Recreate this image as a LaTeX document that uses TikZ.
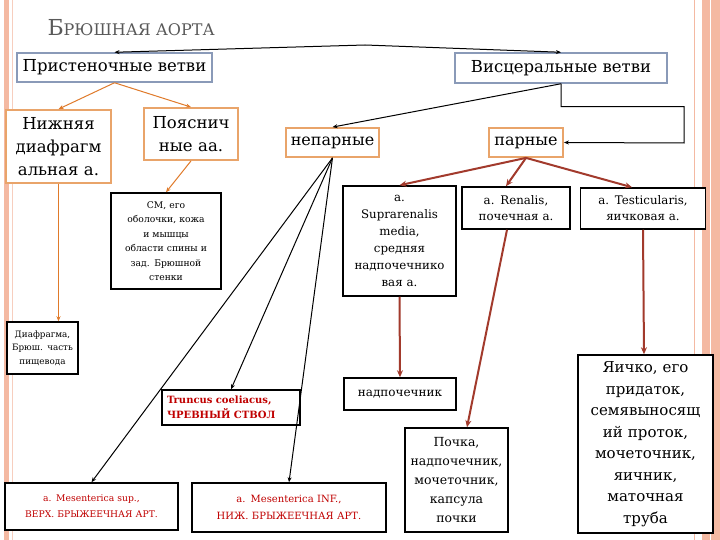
\documentclass[tikz,border=0pt]{standalone}
\usepackage{fontspec}
\setmainfont{DejaVu Serif}
\usetikzlibrary{arrows.meta}
\definecolor{salmon}{HTML}{F4B9A2}
\definecolor{orbox}{HTML}{E9A46A}
\definecolor{orarr}{HTML}{E07A2A}
\definecolor{brarr}{HTML}{A23A2C}
\definecolor{bluebox}{HTML}{8A9AB8}
\definecolor{redtxt}{HTML}{C00000}
\begin{document}
\begin{tikzpicture}[x=1pt,y=-1pt,
 box/.style={draw,inner sep=0pt,align=center,fill=white},
 bbox/.style={box,line width=1.5pt},
 obox/.style={box,draw=orbox,line width=1.8pt},
 vbox/.style={box,draw=bluebox,line width=1.5pt},
 oa/.style={draw=orarr,line width=1pt,-{Stealth[length=5pt,width=4pt]}},
 ba/.style={draw=brarr,line width=2pt,-{Stealth[length=7pt,width=6pt]}},
 ka/.style={draw=black,line width=1pt,-{Stealth[length=5pt,width=4pt]}}]
\useasboundingbox (0,0) rectangle (720,540);
\fill[white] (0,0) rectangle (720,540);
\fill[salmon] (4,0) rectangle (9,540);
\draw[salmon!70,line width=0.6pt] (12,0) -- (12,540);
\fill[salmon] (702,0) rectangle (720,540);
\draw[salmon,line width=0.8pt] (694,0) -- (694,540);
\draw[white,line width=0.6pt] (710,0) -- (710,540);
\node[anchor=base west,text=black!65,font=\fontsize{22}{24}\selectfont] (title) at (44,36) {Б{\fontsize{16}{20}\selectfont РЮШНАЯ АОРТА}};

\node[vbox,minimum width=195pt,minimum height=29pt,font=\fontsize{16.5}{20}\selectfont] (pr) at (114.5,67.5) {Пристеночные ветви};
\node[vbox,minimum width=212pt,minimum height=30pt,font=\fontsize{16.5}{20}\selectfont] (vi) at (561,68) {Висцеральные ветви};
\node[obox,minimum width=105pt,minimum height=73pt,text width=100pt,font=\fontsize{16.5}{23}\selectfont] (nd) at (58.5,146.5) {Нижняя\\диафрагм\\альная а.};
\node[obox,minimum width=94pt,minimum height=52pt,text width=90pt,font=\fontsize{16.5}{23}\selectfont] (po) at (191,134) {Пояснич\\ные аа.};
\node[obox,minimum width=93pt,minimum height=29pt,font=\fontsize{16}{18}\selectfont] (np) at (332.5,142.5) {непарные};
\node[obox,minimum width=74pt,minimum height=29pt,font=\fontsize{16}{18}\selectfont] (pa) at (526,142.5) {парные};
\node[bbox,minimum width=110pt,minimum height=96pt,text width=106pt,font=\fontsize{9.2}{14.5}\selectfont] (cm) at (166,241) {СМ, его\\оболочки, кожа\\и мышцы\\области спины и\\зад. Брюшной\\стенки};
\node[bbox,minimum width=113pt,minimum height=110pt,text width=108pt,font=\fontsize{11.8}{17}\selectfont] (su) at (399.5,241) {а.\\Suprarenalis\\media,\\средняя\\надпочечнико\\вая а.};
\node[bbox,minimum width=108pt,minimum height=42pt,text width=104pt,font=\fontsize{11.8}{16}\selectfont] (re) at (516,208) {a. Renalis,\\почечная а.};
\node[bbox,minimum width=125pt,minimum height=41pt,text width=121pt,font=\fontsize{11.8}{16}\selectfont] (te) at (643,208.5) {a. Testicularis,\\яичковая а.};
\node[bbox,minimum width=71pt,minimum height=52pt,text width=68pt,font=\fontsize{8.8}{13.5}\selectfont] (di) at (42.5,348) {Диафрагма,\\Брюш. часть\\пищевода};
\node[bbox,minimum width=138pt,minimum height=35pt,text width=128pt,align=left,text=redtxt,font=\bfseries\fontsize{10}{15}\selectfont] (tr) at (231,407.5) {Truncus coeliacus,\\ЧРЕВНЫЙ СТВОЛ};
\node[bbox,minimum width=112pt,minimum height=32pt,font=\fontsize{12}{14}\selectfont] (nad) at (400,394) {надпочечник};
\node[bbox,minimum width=103pt,minimum height=104pt,text width=100pt,font=\fontsize{12.5}{19}\selectfont] (pk) at (456.5,480) {Почка,\\надпочечник,\\мочеточник,\\капсула\\почки};
\node[bbox,minimum width=135pt,minimum height=178pt,text width=131pt,font=\fontsize{15}{21.5}\selectfont] (ya) at (645.5,444) {Яичко, его\\придаток,\\семявыносящ\\ий проток,\\мочеточник,\\яичник,\\маточная\\труба};
\node[bbox,minimum width=173pt,minimum height=47pt,text width=170pt,text=redtxt,font=\bfseries\fontsize{9.2}{16}\selectfont] (ms) at (91.5,506.5) {\mdseries a. Mesenterica sup.,\\ВЕРХ. БРЫЖЕЕЧНАЯ АРТ.};
\node[bbox,minimum width=194pt,minimum height=49pt,text width=190pt,text=redtxt,font=\bfseries\fontsize{10}{17}\selectfont] (mi) at (289,507.5) {\mdseries a. Mesenterica INF.,\\НИЖ. БРЫЖЕЕЧНАЯ АРТ.};

\coordinate (top) at (365,45);
\draw[ka] (top) -- (pr.north);
\draw[ka] (top) -- (vi.north);
\draw[ka] (vi.south) -- (np.north);
\draw[ka] (vi.south) -- ++(0,23) -| (684,143) -- (pa.east);

\draw[oa] (pr.south) -- (nd.north);
\draw[oa] (pr.south) -- (po.north);
\draw[oa] (po.south) -- (cm.north);
\draw[oa,line width=0.6pt] (nd.south) -- (di.north-|nd.south);

\draw[ka] (np.south) -- (ms.north);
\draw[ka] (np.south) -- (tr.north);
\draw[ka] (np.south) -- (mi.north);

\draw[ba] (pa.south) -- (su.north);
\draw[ba] (pa.south) -- (re.north-|506,0);
\draw[ba] (pa.south) -- (te.north-|632,0);
\draw[ba] (su.south) -- (nad.north);
\draw[ba] (re.south-|507,0) -- (pk.north-|467,0);
\draw[ba] (te.south) -- (ya.north-|644,0);
\end{tikzpicture}
\end{document}
